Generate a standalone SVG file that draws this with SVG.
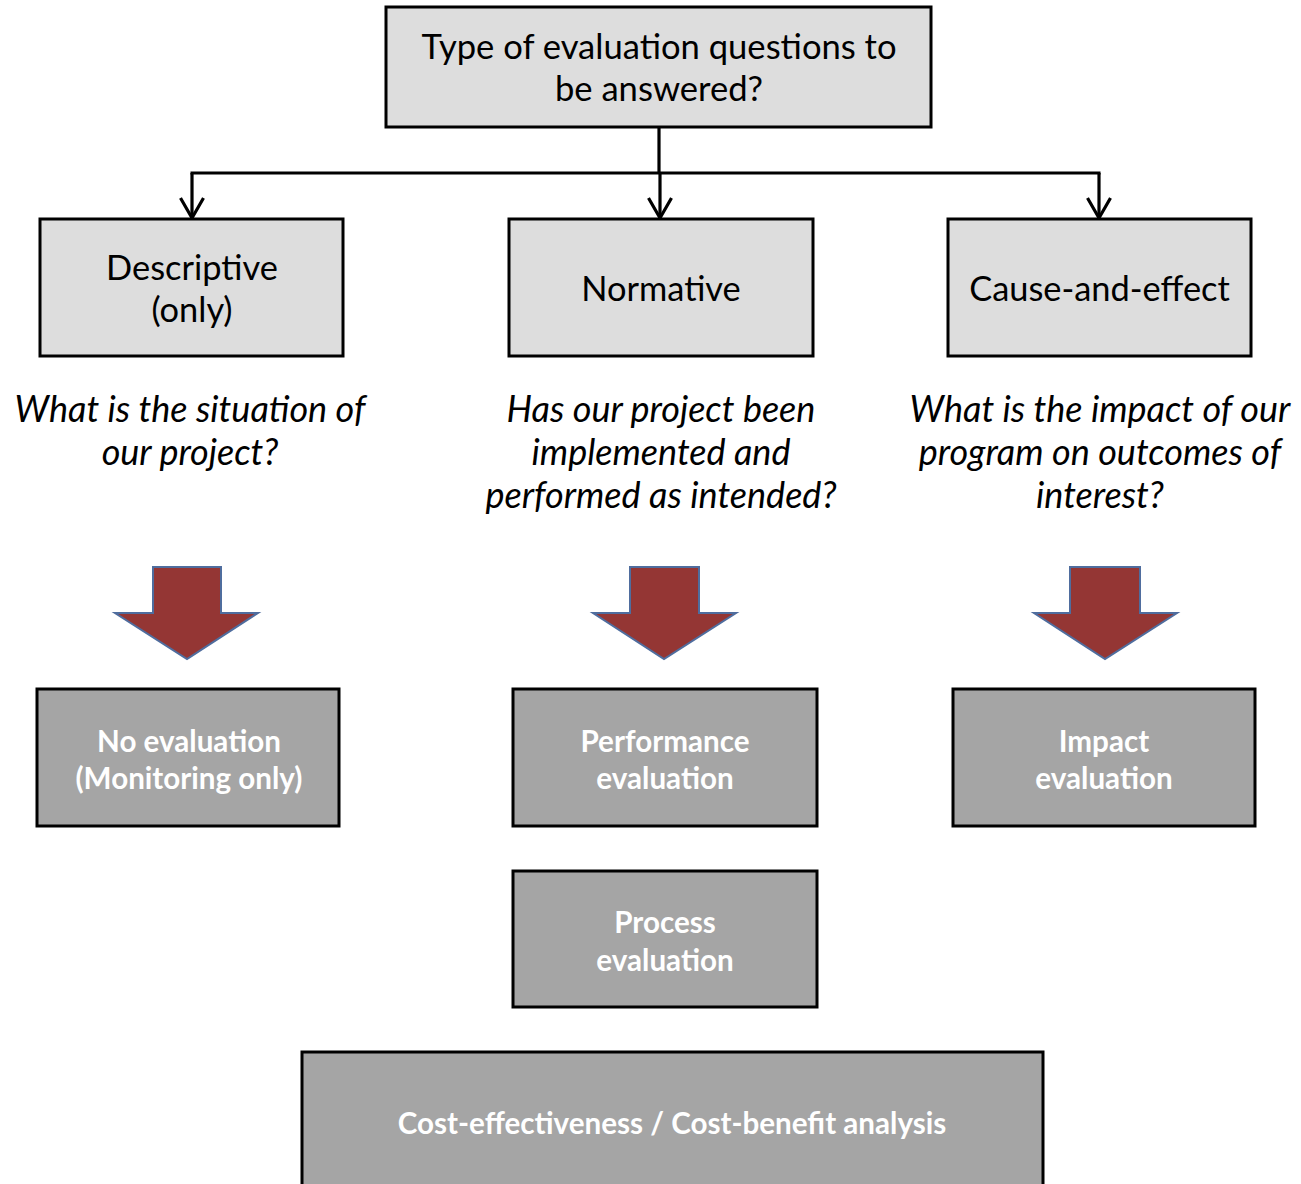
<svg xmlns="http://www.w3.org/2000/svg" width="1301" height="1184" viewBox="0 0 1301 1184">
<style>
.light{fill:#DDDDDD;stroke:#000;stroke-width:3}
.dark{fill:#A5A5A5;stroke:#000;stroke-width:3}
.t{font-family:Lato,"Open Sans","Liberation Sans",sans-serif;text-anchor:middle;fill:#000}
.big{font-size:34.6px}
.mid{font-size:34.4px}
.it{font-family:Lato,"Open Sans","Liberation Sans",sans-serif;font-style:italic;font-size:36px;text-anchor:middle;fill:#000}
.wb{font-family:Lato,"Open Sans","Liberation Sans",sans-serif;font-weight:bold;font-size:29.6px;text-anchor:middle;fill:#fff}
.blk{fill:#943634;stroke:#4F6D9E;stroke-width:2;stroke-linejoin:miter}
.conn{fill:none;stroke:#000;stroke-width:3.2}
</style>
<defs>
<marker id="open" viewBox="0 0 24 26" refX="22" refY="13" markerWidth="24" markerHeight="26" markerUnits="userSpaceOnUse" orient="auto">
<path d="M2 1.5 L22 13 L2 24.5" fill="none" stroke="#000" stroke-width="3.2"/>
</marker>
</defs>
<rect width="1301" height="1184" fill="#fff"/>

<g id="connectors">
<path class="conn" d="M659 127 V173"/>
<path class="conn" d="M190.5 173 H1100.5"/>
<path class="conn" d="M192 173 V218" marker-end="url(#open)"/>
<path class="conn" d="M660 173 V218" marker-end="url(#open)"/>
<path class="conn" d="M1099 173 V218" marker-end="url(#open)"/>
</g>

<g id="node-top">
<rect class="light" x="386" y="7" width="545" height="120"/>
<text class="t big" x="659" y="59">Type of evaluation questions to</text>
<text class="t big" x="659" y="101">be answered?</text>
</g>

<g id="node-descriptive">
<rect class="light" x="40" y="219" width="303" height="137"/>
<text class="t mid" x="192" y="280">Descriptive</text>
<text class="t mid" x="192" y="322">(only)</text>
</g>

<g id="node-normative">
<rect class="light" x="509" y="219" width="304" height="137"/>
<text class="t mid" x="661" y="301">Normative</text>
</g>

<g id="node-cause">
<rect class="light" x="948" y="219" width="303" height="137"/>
<text class="t mid" x="1099.5" y="301">Cause-and-effect</text>
</g>

<g id="q-descriptive">
<text class="it" x="190" y="422">What is the situation of</text>
<text class="it" x="190" y="465">our project?</text>
</g>
<g id="q-normative">
<text class="it" x="661" y="422">Has our project been</text>
<text class="it" x="661" y="465">implemented and</text>
<text class="it" x="661" y="508">performed as intended?</text>
</g>
<g id="q-cause">
<text class="it" x="1100" y="422">What is the impact of our</text>
<text class="it" x="1100" y="465">program on outcomes of</text>
<text class="it" x="1100" y="508">interest?</text>
</g>

<g id="block-arrows">
<polygon class="blk" points="153,567 221,567 221,613 258,613 187,659 115,613 153,613"/>
<polygon class="blk" points="630,567 699,567 699,613 736,613 664,659 593,613 630,613"/>
<polygon class="blk" points="1070,567 1140,567 1140,613 1177,613 1105,659 1034,613 1070,613"/>
</g>

<g id="node-noeval">
<rect class="dark" x="37" y="689" width="302" height="137"/>
<text class="wb" x="189" y="752">No evaluation</text>
<text class="wb" x="189" y="789">(Monitoring only)</text>
</g>
<g id="node-performance">
<rect class="dark" x="513" y="689" width="304" height="137"/>
<text class="wb" x="665" y="752">Performance</text>
<text class="wb" x="665" y="789">evaluation</text>
</g>
<g id="node-impact">
<rect class="dark" x="953" y="689" width="302" height="137"/>
<text class="wb" x="1104" y="752">Impact</text>
<text class="wb" x="1104" y="789">evaluation</text>
</g>
<g id="node-process">
<rect class="dark" x="513" y="871" width="304" height="136"/>
<text class="wb" x="665" y="933">Process</text>
<text class="wb" x="665" y="971">evaluation</text>
</g>
<g id="node-cost">
<rect class="dark" x="302" y="1052" width="741" height="140"/>
<text class="wb" x="672" y="1134">Cost-effectiveness / Cost-benefit analysis</text>
</g>
</svg>
